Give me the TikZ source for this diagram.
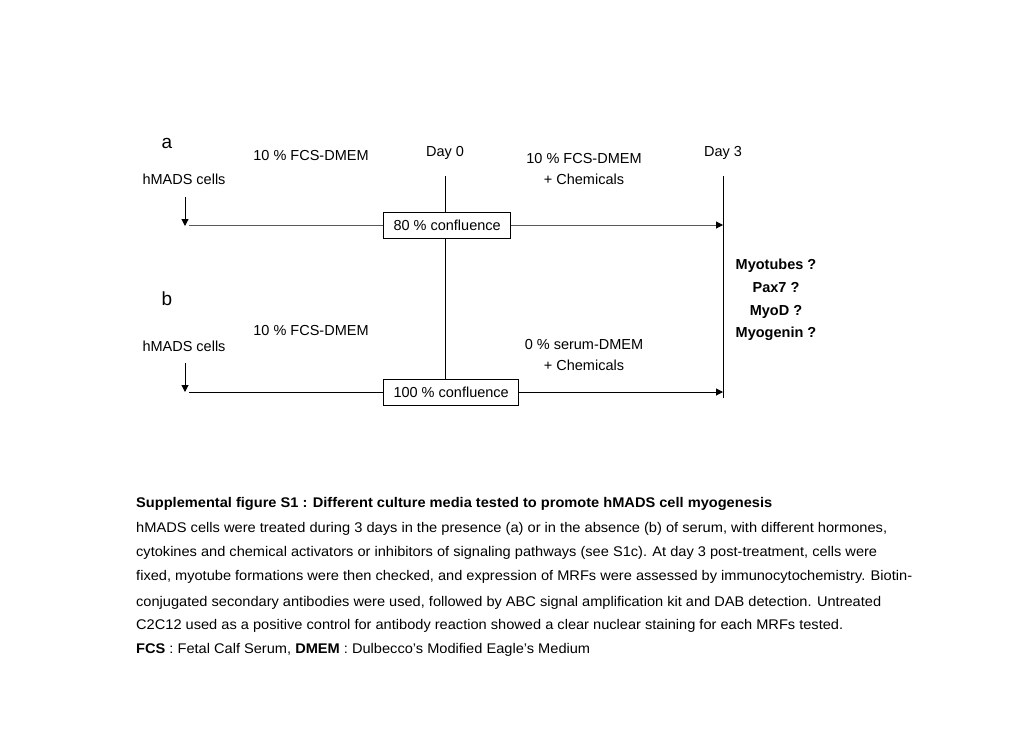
\documentclass[tikz,border=0pt]{standalone}
\usepackage{fontspec}
\setmainfont{Liberation Sans}
\usepackage{graphicx}
\usetikzlibrary{arrows.meta}
\newcommand{\capln}[2]{\resizebox{#1}{\height}{#2}}
\begin{document}
\begin{tikzpicture}[x=1pt,y=-1pt,
  lbl/.style={inner sep=0pt,anchor=base,font=\fontsize{14.5}{17}\selectfont},
  blbl/.style={lbl,font=\fontsize{14.5}{17}\selectfont\bfseries},
  letter/.style={inner sep=0pt,anchor=base,font=\fontsize{19}{22}\selectfont},
  cbox/.style={draw,line width=1pt,anchor=west,inner xsep=10pt,inner ysep=0pt,minimum height=26pt,font=\fontsize{14.5}{17}\selectfont},
  capt/.style={inner sep=0pt,anchor=base west,font=\fontsize{14}{17}\selectfont},
  tl/.style={line width=1pt},
  arr/.style={line width=1pt,-{Triangle[length=7pt,width=7pt,color=black]}}]
\useasboundingbox (0,0) rectangle (1030,728);
% labels panel a
\node[letter] (la) at (167,148) {a};
\node[lbl] (ma1) at (311,160) {10 \% FCS-DMEM};
\node[lbl] (d0) at (445,156) {Day 0};
\node[lbl] (ma2) at (584,163) {10 \% FCS-DMEM};
\node[lbl] (ma3) at (584,184) {+ Chemicals};
\node[lbl] (d3) at (723,156) {Day 3};
\node[lbl] (ha) at (184,184) {hMADS cells};
% panel b
\node[letter] (lb) at (167,305.5) {b};
\node[lbl] (mb1) at (311,335) {10 \% FCS-DMEM};
\node[lbl] (hb) at (184,351) {hMADS cells};
\node[lbl] (mb2) at (584,349) {0 \% serum-DMEM};
\node[lbl] (mb3) at (584,370) {+ Chemicals};
% results
\node[blbl] (r1) at (776,269) {Myotubes ?};
\node[blbl] (r2) at (776,292) {Pax7 ?};
\node[blbl] (r3) at (776,315) {MyoD ?};
\node[blbl] (r4) at (776,337) {Myogenin ?};
% boxes
\node[cbox] (ba) at (383,225) {80 \% confluence};
\node[cbox] (bb) at (383,392) {100 \% confluence};
% coordinates
\coordinate (d0top) at (445,176);
\coordinate (d3top) at (723,176);
\coordinate (d3bot) at (723,398);
\coordinate (sa) at (189,225);
\coordinate (sb) at (189,392);
\coordinate (aa1) at (185,197);
\coordinate (aa2) at (185,226);
\coordinate (ab1) at (185,363);
\coordinate (ab2) at (185,392);
% lines
\draw[tl] (d0top) -- (d0top |- ba.north);
\draw[tl] (d0top |- ba.south) -- (d0top |- bb.north);
\draw[tl] (d3top) -- (d3bot);
\draw[tl,draw=black!65] (sa) -- (ba.west);
\draw[arr,draw=black!65] (ba.east) -- (ba.east -| d3top);
\draw[tl] (sb) -- (bb.west);
\draw[arr] (bb.east) -- (bb.east -| d3top);
\draw[arr] (aa1) -- (aa2);
\draw[arr] (ab1) -- (ab2);
% caption
\node[capt] (c1) at (136,507) {\capln{636pt}{\bfseries Supplemental figure S1 : Different culture media tested to promote hMADS cell myogenesis}};
\node[capt] (c2) at (136,532) {\capln{751pt}{hMADS cells were treated during 3 days in the presence (a) or in the absence (b) of serum, with different hormones,}};
\node[capt] (c3) at (136,556) {\capln{741pt}{cytokines and chemical activators or inhibitors of signaling pathways (see S1c). At day 3 post-treatment, cells were}};
\node[capt] (c4) at (136,580) {\capln{776pt}{fixed, myotube formations were then checked, and expression of MRFs were assessed by immunocytochemistry. Biotin-}};
\node[capt] (c5) at (136,606) {\capln{745pt}{conjugated secondary antibodies were used, followed by ABC signal amplification kit and DAB detection. Untreated}};
\node[capt] (c6) at (136,629) {\capln{707pt}{C2C12 used as a positive control for antibody reaction showed a clear nuclear staining for each MRFs tested.}};
\node[capt] (c7) at (136,653) {\capln{454pt}{\textbf{FCS} : Fetal Calf Serum, \textbf{DMEM} : Dulbecco’s Modified Eagle’s Medium}};
\end{tikzpicture}
\end{document}
